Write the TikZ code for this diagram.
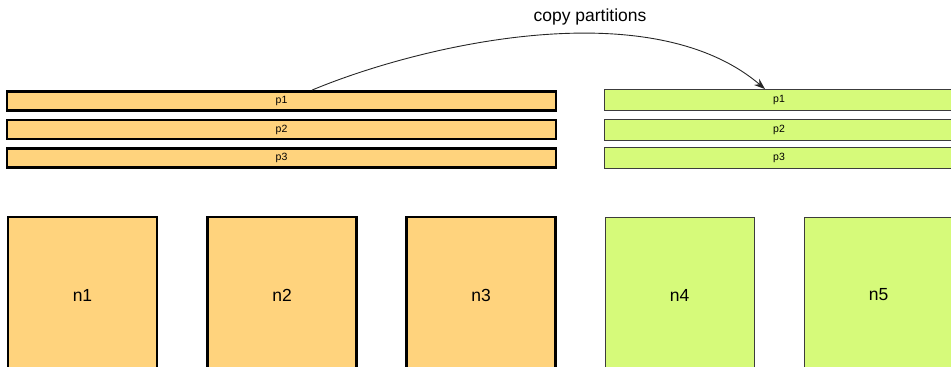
\documentclass[tikz,border=0pt]{standalone}
\usepackage{fontspec}
\setmainfont{Liberation Sans}
\usetikzlibrary{arrows.meta}
\definecolor{srcfill}{RGB}{255,211,125}
\definecolor{dstfill}{RGB}{214,250,122}
\definecolor{dstline}{RGB}{60,60,60}
\tikzset{
  srcpart/.style={draw=black, line width=2.8pt, fill=srcfill, minimum width=549pt, minimum height=19pt, inner sep=0pt, font=\fontsize{10.5}{12}\selectfont},
  dstpart/.style={draw=dstline, line width=0.9pt, fill=dstfill, minimum width=350pt, minimum height=21pt, inner sep=0pt, font=\fontsize{10.5}{12}\selectfont},
  srcnode/.style={draw=black, line width=2.8pt, fill=srcfill, minimum width=149pt, minimum height=156pt, inner sep=0pt, font=\fontsize{17.5}{20}\selectfont},
  dstnode/.style={draw=dstline, line width=0.9pt, fill=dstfill, minimum width=149pt, minimum height=156pt, inner sep=0pt, font=\fontsize{17.5}{20}\selectfont},
  copyarrow/.style={draw=black!85, line width=0.9pt, -{Stealth[length=11pt,width=8pt]}}
}
\begin{document}
\begin{tikzpicture}[x=1pt,y=-1pt]
\useasboundingbox (0,0) rectangle (951,367);
\clip (0,0) rectangle (951,367);
% partitions held by the source nodes
\node[srcpart] (op1) at (281.5,101) {p1};
\node[srcpart] (op2) at (281.5,129.5) {p2};
\node[srcpart] (op3) at (281.5,158) {p3};
% copied partitions on the new nodes
\node[dstpart] (gp1) at (779,100) {p1};
\node[dstpart] (gp2) at (779,130) {p2};
\node[dstpart] (gp3) at (779,157.5) {p3};
% cluster nodes
\node[srcnode] (n1) at (82.5,295) {n1};
\node[srcnode] (n2) at (282,295) {n2};
\node[srcnode] (n3) at (481,295) {n3};
\node[dstnode] (n4) at (679.5,295) {n4};
\node[dstnode] (n5) at (878.5,295) {n5};
% copy arrow and its label
\draw[copyarrow] ([xshift=30.5pt]op1.north) .. controls (420,45) and (650,-9) .. ([xshift=-14pt]gp1.north);
\node[font=\fontsize{17.5}{20}\selectfont] (lbl) at (590,17) {copy partitions};
\end{tikzpicture}
\end{document}
